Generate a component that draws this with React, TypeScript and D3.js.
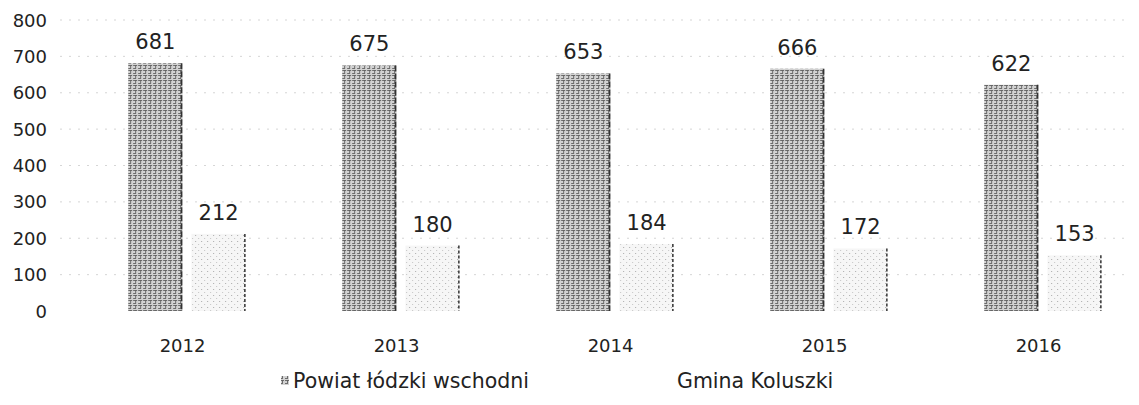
import React from "react";
import * as d3 from "d3";

// values
const years = ["2012", "2013", "2014", "2015", "2016"];
const series = ["Powiat łódzki wschodni", "Gmina Koluszki"];
const powiatValues = [681, 675, 653, 666, 622];
const gminaValues = [212, 180, 184, 172, 153];
const yTicks = [0, 100, 200, 300, 400, 500, 600, 700, 800];

const width = 1139;
const height = 405;
const font = "'DejaVu Sans', 'Liberation Sans', sans-serif";

export default function App() {
  const x0 = d3.scaleBand<string>().domain(years).range([80, 1150]).paddingInner(0.45).paddingOuter(0.225);
  const x1 = d3.scaleBand<string>().domain(series).range([0, x0.bandwidth()]).paddingInner(0.14);
  const y = d3.scaleLinear().domain([0, 800]).range([311, 20]);

  const rows = years.map((yr, i) => ({ year: yr, values: [powiatValues[i], gminaValues[i]] }));

  return (
    <div style={{ margin: -8 }}>
      <svg width={width} height={height} style={{ display: "block", background: "#fff" }}>
        <defs>
          <pattern id="dark" width="5" height="5" patternUnits="userSpaceOnUse">
            <rect width="5" height="5" fill="#d2d2d2" />
            <path d="M0 0.5H4M2.5 0V4M0 3.5H2" stroke="#222" strokeWidth="0.9" opacity="0.65" />
          </pattern>
          <pattern id="light" width="6" height="6" patternUnits="userSpaceOnUse">
            <rect width="6" height="6" fill="#f6f6f6" />
            <rect x="1" y="1" width="1" height="1" fill="#aaa" />
            <rect x="4" y="4" width="1" height="1" fill="#c4c4c4" />
          </pattern>
        </defs>

        {/* faint dotted gridlines */}
        {yTicks.slice(1).map((t) => (
          <line
            key={t}
            x1={60}
            x2={width}
            y1={y(t)}
            y2={y(t)}
            stroke="#999"
            strokeWidth={0.8}
            strokeDasharray="2 7"
            opacity={0.5}
          />
        ))}

        {/* y axis labels */}
        {yTicks.map((t) => (
          <text
            key={t}
            x={47}
            y={y(t)}
            textAnchor="end"
            dominantBaseline="central"
            fontFamily={font}
            fontSize={18}
            fill="#222"
          >
            {t}
          </text>
        ))}

        {rows.map((r) => (
          <g key={r.year} transform={`translate(${x0(r.year)},0)`}>
            {r.values.map((v, j) => {
              const bx = x1(series[j])!;
              const bw = x1.bandwidth();
              return (
                <g key={j}>
                  <rect
                    x={bx}
                    y={y(v)}
                    width={bw}
                    height={y(0) - y(v)}
                    fill={j === 0 ? "url(#dark)" : "url(#light)"}
                  />
                  <line
                    x1={bx + bw - 1}
                    x2={bx + bw - 1}
                    y1={y(v)}
                    y2={y(0)}
                    stroke="#333"
                    strokeWidth={1.5}
                    strokeDasharray={j === 0 ? "6 2" : "3 2"}
                  />
                  <text
                    x={bx + bw / 2}
                    y={y(v) - 21}
                    textAnchor="middle"
                    dominantBaseline="central"
                    fontFamily={font}
                    fontSize={21}
                    fill="#222"
                  >
                    {v}
                  </text>
                </g>
              );
            })}
            <text
              x={x1.bandwidth()}
              y={345}
              textAnchor="middle"
              dominantBaseline="central"
              fontFamily={font}
              fontSize={18}
              fill="#222"
            >
              {r.year}
            </text>
          </g>
        ))}

        {/* legend */}
        <rect x={281} y={376} width={8} height={9} fill="url(#dark)" />
        <text x={293} y={381} dominantBaseline="central" fontFamily={font} fontSize={20.5} fill="#222">
          {series[0]}
        </text>
        <text x={677} y={381} dominantBaseline="central" fontFamily={font} fontSize={20.5} fill="#222">
          {series[1]}
        </text>
      </svg>
    </div>
  );
}
